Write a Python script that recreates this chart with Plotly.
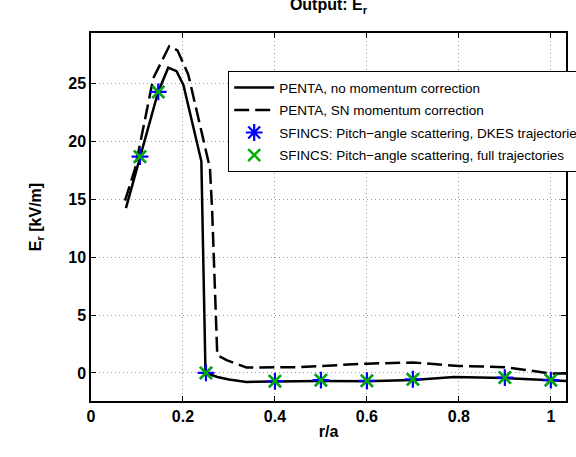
import plotly.graph_objects as go

# PENTA, no momentum correction
r_penta_no = [0.076, 0.107, 0.146, 0.168, 0.186, 0.201, 0.240, 0.249, 0.275, 0.300, 0.338,
              0.40, 0.50, 0.60, 0.70, 0.79, 0.90, 1.00, 1.033]
er_penta_no = [14.25, 18.7, 24.3, 26.4, 26.1, 24.9, 18.3, 0.0, -0.35, -0.57, -0.78,
               -0.75, -0.70, -0.72, -0.62, -0.35, -0.45, -0.63, -0.70]

# PENTA, SN momentum correction
r_penta_sn = [0.074, 0.096, 0.1355, 0.170, 0.188, 0.2116, 0.2587, 0.2635, 0.2746, 0.295, 0.324,
              0.338, 0.45, 0.50, 0.60, 0.70, 0.80, 0.90, 1.00, 1.033]
er_penta_sn = [14.9, 17.7, 25.5, 28.25, 27.9, 25.8, 17.7, 14.0, 1.53, 1.1, 0.67,
               0.47, 0.50, 0.60, 0.80, 0.90, 0.60, 0.50, -0.05, -0.05]

# SFINCS points
r_sfincs = [0.1065, 0.1463, 0.25, 0.40, 0.50, 0.60, 0.70, 0.90, 1.00]
er_sfincs_dkes = [18.7, 24.3, 0.0, -0.72, -0.63, -0.68, -0.55, -0.40, -0.63]
er_sfincs_full = [18.7, 24.3, 0.0, -0.72, -0.63, -0.68, -0.55, -0.40, -0.63]

x_ticks = [0, 0.2, 0.4, 0.6, 0.8, 1]
y_ticks = [0, 5, 10, 15, 20, 25]

FONT = "Liberation Sans, Arial, sans-serif"

fig = go.Figure()
fig.add_trace(go.Scatter(x=r_penta_no, y=er_penta_no, mode="lines",
                         line=dict(color="black", width=2.5),
                         name="PENTA, no momentum correction", legendgroup="a"))
fig.add_trace(go.Scatter(x=r_penta_sn, y=er_penta_sn, mode="lines",
                         line=dict(color="black", width=2.5, dash="15px,6px"),
                         name="PENTA, SN momentum correction", legendgroup="b"))
fig.add_trace(go.Scatter(x=r_sfincs, y=er_sfincs_dkes, mode="markers",
                         marker=dict(symbol="asterisk-open", size=14, color="#0000ff",
                                     line=dict(color="#0000ff", width=2.2)),
                         name="SFINCS: Pitch\u2212angle scattering, DKES trajectories",
                         legendgroup="c"))
fig.add_trace(go.Scatter(x=r_sfincs, y=er_sfincs_full, mode="markers",
                         marker=dict(symbol="x-thin-open", size=12, color="#00b000",
                                     line=dict(color="#00b000", width=2.5)),
                         name="SFINCS: Pitch\u2212angle scattering, full trajectories",
                         legendgroup="d"))

axis_common = dict(
    showline=True, linecolor="black", linewidth=1.5, mirror="ticks",
    ticks="inside", ticklen=5, tickcolor="black", tickwidth=1,
    showgrid=True, gridcolor="#9a9a9a", griddash="1px,3px", gridwidth=1,
    zeroline=False,
    tickfont=dict(family=FONT, size=16, color="black", weight="bold"),
)

fig.update_layout(
    width=576, height=457,
    margin=dict(l=91, r=10, t=33, b=56, autoexpand=False),
    paper_bgcolor="white", plot_bgcolor="white",
    font=dict(family=FONT, color="black"),
    title=dict(text="<b>Output: E<sub>r</sub></b>", x=(91 + 566) / 2 / 576, xanchor="center",
               xref="container", yref="container", y=0.99, yanchor="middle",
               font=dict(family=FONT, size=16, color="black")),
    xaxis=dict(range=[0, 1.033], tickvals=x_ticks,
               title=dict(text="<b>r/a</b>", font=dict(family=FONT, size=16), standoff=2),
               **axis_common),
    yaxis=dict(range=[-2.43, 29.4], tickvals=y_ticks,
               title=dict(text="<b>E<sub>r</sub> [kV/m]</b>", font=dict(family=FONT, size=16), standoff=23),
               **axis_common),
    legend=dict(x=0.2884, y=0.897, xanchor="left", yanchor="top",
                bgcolor="white", bordercolor="black", borderwidth=1.2,
                font=dict(family=FONT, size=13.5, color="black"),
                itemwidth=40, traceorder="grouped", tracegroupgap=2),
    showlegend=True,
)

fig.write_html("out.html", config={"displayModeBar": False},
               post_script="document.body.style.margin='0';document.body.style.overflow='hidden';")
